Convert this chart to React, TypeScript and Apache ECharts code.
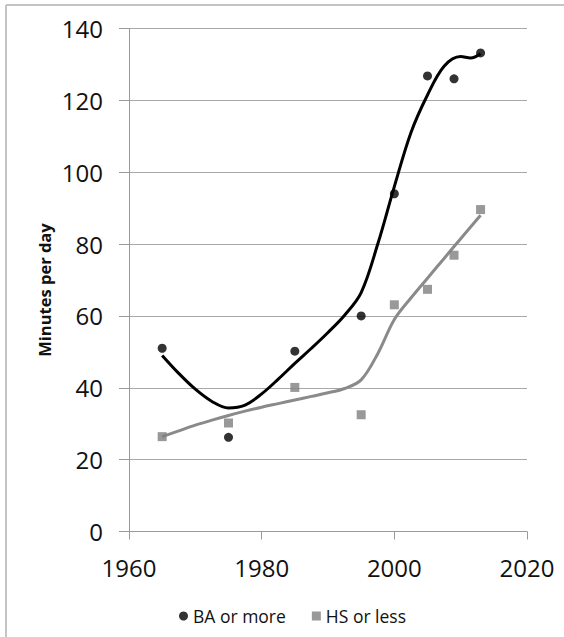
import React, { useEffect, useRef } from "react";
import * as echarts from "echarts";

const years = [1965, 1975, 1985, 1995, 2000, 2005, 2009, 2013];
const baValues = [51, 26.2, 50.2, 60, 94, 126.8, 126, 133.2];
const hsValues = [26.4, 30.2, 40.1, 32.5, 63.1, 67.4, 76.9, 89.6];

const baTrendYears = [1965, 1967.5, 1970, 1972.5, 1975, 1977.5, 1980, 1982.5, 1985, 1987.5, 1990, 1992.5, 1995, 1997.5, 2000, 2002.5, 2005, 2007.5, 2010, 2011.5, 2013];
const baTrendValues = [49, 44, 39.6, 36.2, 34.4, 35.2, 38.3, 42.4, 46.8, 51, 55.4, 60.2, 66.5, 80, 96, 111, 121.5, 129.5, 132.2, 131.8, 133];

const hsTrendYears = [1965, 1967.5, 1970, 1972.5, 1975, 1977.5, 1980, 1982.5, 1985, 1987.5, 1990, 1992.5, 1995, 1997.5, 2000, 2002.5, 2005, 2007.5, 2010, 2013];
const hsTrendValues = [26.4, 28, 29.6, 31, 32.3, 33.5, 34.6, 35.6, 36.6, 37.6, 38.6, 39.8, 42.2, 49.5, 59, 65, 70.5, 76, 81.5, 88];

const xTicks = { min: 1960, max: 2020, interval: 20 };
const yTicks = { min: 0, max: 140, interval: 20 };

const seriesNames = ["BA or more", "HS or less"];
const yAxisTitle = "Minutes per day";

export default function App() {
  const ref = useRef<HTMLDivElement>(null);
  useEffect(() => {
    if (!ref.current) return;
    const chart = echarts.init(ref.current, null, { renderer: "svg" });
    const pair = (xs: number[], ys: number[]) => xs.map((x, i) => [x, ys[i]]);
    const font = "'Open Sans', 'Liberation Sans', sans-serif";
    chart.setOption({
      animation: false,
      backgroundColor: "#ffffff",
      textStyle: { fontFamily: font },
      grid: { left: 129, right: 37, top: 28.5, bottom: 105.5 },
      xAxis: {
        type: "value",
        min: xTicks.min,
        max: xTicks.max,
        interval: xTicks.interval,
        axisLine: { show: true, onZero: false, lineStyle: { color: "#9a9a9a", width: 1 } },
        axisTick: { show: true, length: 8, lineStyle: { color: "#9a9a9a" } },
        axisLabel: { fontSize: 24, color: "#111111", margin: 24, fontFamily: font, formatter: (v: number) => String(v) },
        splitLine: { show: false },
      },
      yAxis: {
        type: "value",
        min: yTicks.min,
        max: yTicks.max,
        interval: yTicks.interval,
        axisLine: { show: true, lineStyle: { color: "#9a9a9a", width: 1 } },
        axisTick: { show: true, length: 10, lineStyle: { color: "#9a9a9a" } },
        axisLabel: { fontSize: 24, color: "#111111", margin: 26, fontFamily: font },
        splitLine: { show: true, lineStyle: { color: "#a8a8a8", width: 1.2 } },
      },
      legend: {
        data: [
          { name: seriesNames[0], icon: "circle" },
          { name: seriesNames[1], icon: "rect" },
        ],
        left: 174,
        top: 602,
        itemWidth: 9,
        itemHeight: 9,
        itemGap: 26,
        textStyle: { fontSize: 17.5, color: "#111111", fontFamily: font },
      },
      graphic: [
        { type: "line", shape: { x1: 6, y1: 5, x2: 564, y2: 5 }, style: { stroke: "#c4c4c4", lineWidth: 2 } },
        { type: "line", shape: { x1: 6, y1: 5, x2: 6, y2: 637 }, style: { stroke: "#c4c4c4", lineWidth: 2 } },
        {
          type: "text",
          x: 44,
          y: 290,
          rotation: Math.PI / 2,
          style: {
            text: yAxisTitle,
            fontSize: 16.5,
            fontWeight: "bold",
            fontFamily: font,
            fill: "#111111",
            align: "center",
            verticalAlign: "middle",
          },
        },
      ],
      series: [
        {
          name: "BA trend",
          type: "line",
          data: pair(baTrendYears, baTrendValues),
          smooth: 0.35,
          showSymbol: false,
          symbol: "none",
          lineStyle: { color: "#000000", width: 3 },
          z: 2,
        },
        {
          name: "HS trend",
          type: "line",
          data: pair(hsTrendYears, hsTrendValues),
          smooth: 0.35,
          showSymbol: false,
          symbol: "none",
          lineStyle: { color: "#8a8a8a", width: 3 },
          z: 2,
        },
        {
          name: seriesNames[0],
          type: "scatter",
          data: pair(years, baValues),
          symbol: "circle",
          symbolSize: 9,
          itemStyle: { color: "#000000" },
          z: 3,
        },
        {
          name: seriesNames[1],
          type: "scatter",
          data: pair(years, hsValues),
          symbol: "rect",
          symbolSize: 9,
          itemStyle: { color: "#808080" },
          z: 3,
        },
      ],
    });
    return () => chart.dispose();
  }, []);
  return (
    <div
      ref={ref}
      style={{ position: "absolute", left: 0, top: 0, width: 564, height: 637 }}
    />
  );
}
